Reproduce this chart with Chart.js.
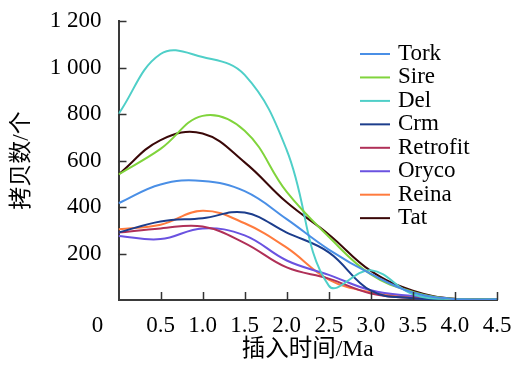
<!DOCTYPE html>
<html><head><meta charset="utf-8">
<script src="https://cdn.jsdelivr.net/npm/chart.js@4/dist/chart.umd.min.js"></script>
<style>html,body{margin:0;padding:0;background:#fff;}#wrap{width:511px;height:372px;}</style>
</head><body><div id="wrap"><canvas id="c" width="511" height="372"></canvas></div>
<script>
const times = [0,0.5,1,1.5,2,2.5,3,3.5,4,4.5];
const seriesNames = ['Tork','Sire','Del','Crm','Retrofit','Oryco','Reina','Tat'];
const tork     = [416,497,512,468,348,217,112,32,4,3];
const sire     = [540,650,792,728,465,272,110,35,4,3];
const del      = [800,1058,1045,968,645,62,128,25,3,2];
const crm      = [290,338,352,376,290,205,40,8,2,2];
const retrofit = [290,308,316,245,140,92,28,8,2,2];
const oryco    = [275,262,308,278,170,108,42,17,3,2];
const reina    = [304,324,384,330,225,88,33,13,2,2];
const tat      = [540,688,716,592,420,282,125,40,5,3];
const seriesValues = [tork,sire,del,crm,retrofit,oryco,reina,tat];
const seriesColors = ['#4a8fe6','#80d43c','#4fcfc8','#1c3d8c','#b03058','#6a52e0','#ff7b3e','#3a0808'];
const xTickValues = [0,0.5,1,1.5,2,2.5,3,3.5,4,4.5];
const yTickValues = [0,200,400,600,800,1000,1200];
const xTitle = '插入时间/Ma';
const yTitle = '拷贝数/个';

const FONT = '"Liberation Serif", "Noto Sans CJK SC", serif';

const datasets = seriesNames.map((name,i)=>({
  label: name,
  data: times.map((t,j)=>({x:t, y:seriesValues[i][j]})),
  borderColor: seriesColors[i],
  backgroundColor: seriesColors[i],
  borderWidth: 2,
  pointRadius: 0,
  tension: 0.4,
  fill: false
}));

const deco = {
  id: 'deco',
  afterDraw(chart){
    const {ctx, scales:{x, y}} = chart;
    ctx.save();
    ctx.strokeStyle = '#333';
    ctx.lineWidth = 1.5;
    xTickValues.forEach(v=>{
      if (v === 0) return;
      const px = Math.round(x.getPixelForValue(v)) + 0.5;
      ctx.beginPath(); ctx.moveTo(px, y.bottom); ctx.lineTo(px, y.bottom - 8); ctx.stroke();
    });
    yTickValues.forEach(v=>{
      if (v === 0) return;
      const py = Math.round(y.getPixelForValue(v)) + 0.5;
      ctx.beginPath(); ctx.moveTo(x.left, py); ctx.lineTo(x.left + 8, py); ctx.stroke();
    });
    ctx.fillStyle = '#000';
    ctx.font = '23px ' + FONT;
    ctx.textAlign = 'center';
    ctx.textBaseline = 'middle';
    ctx.fillText('0', x.left - 21, y.bottom + 26);
    const lx = 360, lw = 30, ly0 = 54, step = 23.45;
    ctx.textAlign = 'left';
    ctx.textBaseline = 'alphabetic';
    chart.data.datasets.forEach((ds,i)=>{
      const yy = ly0 + i*step;
      ctx.strokeStyle = ds.borderColor;
      ctx.lineWidth = 2;
      ctx.beginPath(); ctx.moveTo(lx, yy); ctx.lineTo(lx + lw, yy); ctx.stroke();
      ctx.fillStyle = '#000';
      ctx.fillText(ds.label, 398, yy + 6);
    });
    ctx.restore();
  }
};

new Chart(document.getElementById('c'), {
  type: 'line',
  data: { datasets },
  options: {
    responsive: false,
    animation: false,
    devicePixelRatio: 1,
    layout: { padding: { top: 21, right: 14, left: 0, bottom: 0 } },
    plugins: { legend: { display: false }, tooltip: { enabled: false } },
    scales: {
      x: {
        type: 'linear', min: 0, max: 4.5,
        afterBuildTicks: s => { s.ticks = xTickValues.map(v=>({value:v})); },
        afterFit: s => { s.height = 72; s.paddingLeft = 0; s.paddingRight = 0; },
        grid: { display: false, drawTicks: false },
        border: { display: true, color: '#3a3a3a', width: 2 },
        ticks: {
          color: '#000', padding: 12, maxRotation: 0, autoSkip: false,
          font: { family: FONT, size: 23 },
          callback: v => v === 0 ? '' : v.toFixed(1)
        },
        title: {
          display: true, text: xTitle, color: '#000',
          font: { family: FONT, size: 23.5 }, padding: { top: 0, bottom: 8 }
        }
      },
      y: {
        type: 'linear', min: 0, max: 1200,
        afterBuildTicks: s => { s.ticks = yTickValues.map(v=>({value:v})); },
        afterFit: s => { s.width = 118.5; s.paddingTop = 0; s.paddingBottom = 0; },
        grid: { display: false, drawTicks: false },
        border: { display: true, color: '#3a3a3a', width: 2 },
        ticks: {
          color: '#000', padding: 17,
          font: { family: FONT, size: 23 },
          callback: v => v === 0 ? '' : (v >= 1000 ? Math.floor(v/1000) + ' ' + String(v%1000).padStart(3,'0') : String(v))
        },
        title: {
          display: true, text: yTitle, color: '#000',
          font: { family: FONT, size: 23 }, padding: { top: 8, bottom: 0 }
        }
      }
    }
  },
  plugins: [deco]
});
</script>
</body></html>
